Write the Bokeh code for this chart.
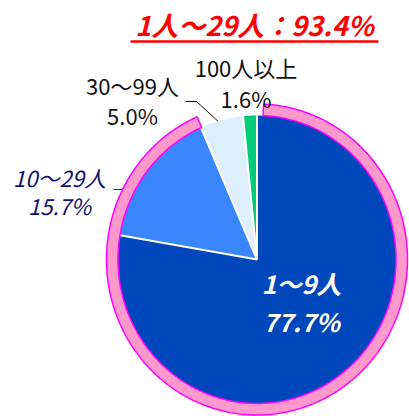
import numpy as np
from bokeh.plotting import figure
from bokeh.models import Range1d
from bokeh.core.properties import value
from bokeh.embed import file_html
from bokeh.resources import INLINE

# ---- data ----
categories = ["1～9人", "10～29人", "30～99人", "100人以上"]
shares = [77.7, 15.7, 5.0, 1.6]
pct_labels = ["77.7%", "15.7%", "5.0%", "1.6%"]
slice_colors = ["#0047BB", "#3A86FF", "#DDEFFA", "#00CC77"]
highlight_title = "1人～29人：93.4%"
highlight_count = 2  # first two categories (1～29人) are ringed

# ---- layout (page pixel coordinates, y downward) ----
W, H = 409, 416
cx, cy = 256.5, 259.0
rx, ry = 139.0, 144.0
ring_w = 11.5

p = figure(width=W, height=H, output_backend="svg", toolbar_location=None,
           x_range=Range1d(0, W), y_range=Range1d(H, 0),
           min_border=0, outline_line_color=None)
p.axis.visible = False
p.grid.visible = False
p.background_fill_color = "white"
p.border_fill_color = "white"

def pt(theta_deg, sx=1.0, sy=None):
    sy = sx if sy is None else sy
    t = np.radians(theta_deg)
    return cx + rx * sx * np.cos(t), cy - ry * sy * np.sin(t)

# slice angles: start at 12 o'clock, clockwise
fr = np.array(shares) / sum(shares)
ends = 90.0 - 360.0 * np.cumsum(fr)
starts = np.concatenate([[90.0], ends[:-1]])

# leader lines (drawn under the ring)
p.line([113, 124], [189, 189], line_color="#333333", line_width=1)
p.line([185, 196, 221], [101, 101, 124], line_color="#111111", line_width=1)

xs, ys = [], []
for s, e in zip(starts, ends):
    th = np.linspace(s, e, 200)
    px, py = pt(th)
    xs.append(np.concatenate([[cx], px]).tolist())
    ys.append(np.concatenate([[cy], py]).tolist())
p.patches(xs, ys, fill_color=slice_colors, line_color=None)

# white separators
for a in starts:
    ex, ey = pt(a)
    p.line([cx, ex], [cy, ey], line_color="white", line_width=2)

# highlight ring around first categories
r_start = 90.0 - 2.5
r_end = ends[highlight_count - 1] - 0.3
th = np.linspace(r_start, r_end, 400)
ox, oy = pt(th, 1.0 + ring_w / rx, 1.0 + ring_w / ry)
ix, iy = pt(th[::-1], 1.0, 1.0)
p.patch(np.concatenate([ox, ix]).tolist(), np.concatenate([oy, iy]).tolist(),
        fill_color="#FF99CC", line_color="#FF00FF", line_width=1.5)

FONT = value("Noto Sans CJK JP")

def label(x, ys_, texts, size, color, style="normal"):
    off = 0.48 * size
    p.text([x] * len(texts), [y - off for y in ys_], text=texts, text_color=color,
           text_font=FONT, text_font_size=value(f"{size}px"), text_font_style=style,
           text_align="center", text_baseline="alphabetic")

# title
label(254, [37], [highlight_title], 27, "#FF0000", "bold italic")
p.line([130, 378], [41, 41], line_color="#FF0000", line_width=2.5)

label(301, [294, 332], [categories[0], pct_labels[0]], 25, "white", "bold italic")
label(59, [187, 215], [categories[1], pct_labels[1]], 22, "#101070", "italic")
label(132, [95, 125], [categories[2], pct_labels[2]], 22, "#111111")
label(245.5, [77, 108], [categories[3], pct_labels[3]], 22, "#111111")

open("out.html", "w").write(file_html(p, INLINE))
